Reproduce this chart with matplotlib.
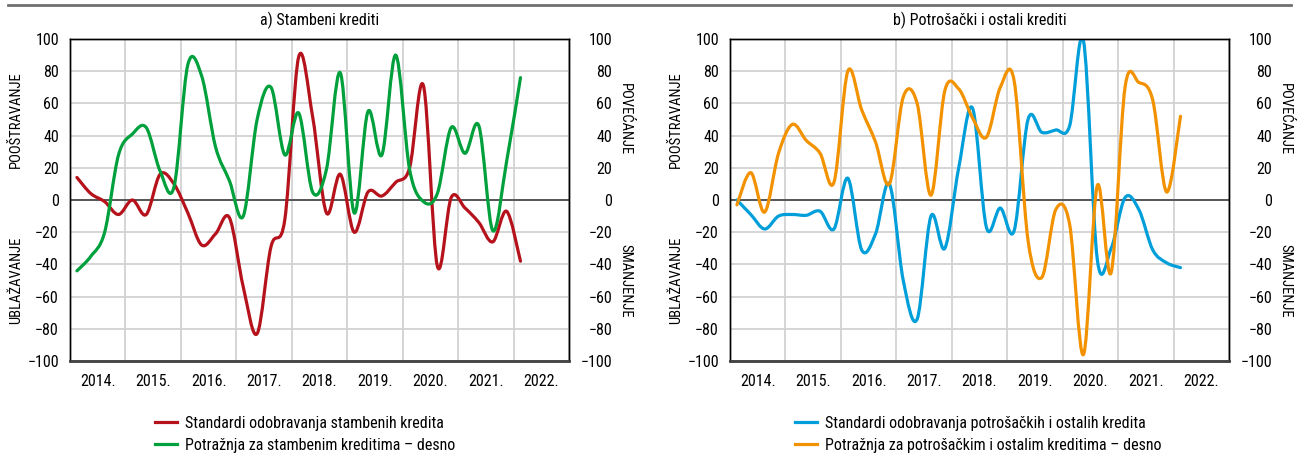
import numpy as np
import pandas as pd
import matplotlib
matplotlib.use("Agg")
import matplotlib.pyplot as plt
from matplotlib.path import Path
from matplotlib.patches import PathPatch
from matplotlib.lines import Line2D
from matplotlib.transforms import blended_transform_factory

plt.rcParams['font.family'] = ['Roboto Condensed', 'DejaVu Sans']

# quarterly survey data, 2014 Q1 - 2022 Q1
quarters = pd.period_range('2014Q1', '2022Q1', freq='Q')

housing_std = [14, 4, -1, -9, 0, -9, 16, 10, -8, -28, -21, -11, -54, -83, -29, -12,
               89, 52, -8, 16, -20, 5, 2.5, 11, 20, 71, -41, 1.5, -5, -14, -26, -7, -38]
housing_dem = [-44, -35, -20, 28, 41, 45, 18, 8, 84, 77, 33, 12, -10, 50, 70, 28,
               54, 5, 19, 79, -8, 55, 28, 90, 19, -1, 4, 45, 29, 46, -19, 24, 76]

cons_std = [0, -9, -18, -10, -9, -9.5, -7, -18, 13.5, -31, -21, 10, -50, -74, -10, -30,
            20, 57, -17, -5, -19, 50, 42, 43.5, 46, 99, -37, -30, 1.5, -6, -31, -39, -42]
cons_dem = [-3, 17, -7.5, 29, 47, 37, 29, 11, 80, 56, 36, 10, 64, 60, 3, 68,
            69, 51, 39, 70, 74, -25, -48, -6, -15, -96, 9, -45, 70, 73, 62, 5, 52]

years = list(range(2014, 2023))
year_labels = [f'{y}.' for y in years]

panels = [
    ("a) Stambeni krediti", housing_std, housing_dem,
     "Standardi odobravanja stambenih kredita",
     "Potražnja za stambenim kreditima – desno",
     "#b5121b", "#00a03c"),
    ("b) Potrošački i ostali krediti", cons_std, cons_dem,
     "Standardi odobravanja potrošačkih i ostalih kredita",
     "Potražnja za potrošačkim i ostalim kreditima – desno",
     "#009fda", "#f39200"),
]


def smooth_path(x, y):
    # excel-like smoothed line: bezier segments through the data points
    pts = np.column_stack([x, y])
    p = np.vstack([pts[0], pts, pts[-1]])
    verts = [pts[0]]
    codes = [Path.MOVETO]
    for i in range(1, len(p) - 2):
        c1 = p[i] + (p[i + 1] - p[i - 1]) / 6
        c2 = p[i + 1] - (p[i + 2] - p[i]) / 6
        verts += [c1, c2, p[i + 1]]
        codes += [Path.CURVE4] * 3
    return Path(verts, codes)


x = quarters.year + (quarters.quarter - 0.5) / 4

fig = plt.figure(figsize=(13.04, 4.54), dpi=100)
fig.add_artist(Line2D([0.006, 0.99], [0.989, 0.989], transform=fig.transFigure,
                      color='#6f6f6f', lw=2))

lefts = [70 / 1304, 730 / 1304]
legend_x = [155 / 1304, 795 / 1304]
fs = 11.5

for k, (title, std, dem, lab1, lab2, c1, c2) in enumerate(panels):
    ax = fig.add_axes([lefts[k], 0.2048, 499 / 1304, 0.7093])
    ax2 = ax.twinx()
    for a in (ax, ax2):
        a.set_xlim(2014, 2023)
        a.set_ylim(-100, 100)
        a.set_yticks(range(-100, 101, 20))
        a.set_yticklabels([str(v).replace('-', '\u2212') for v in range(-100, 101, 20)])
        a.tick_params(axis='y', length=0, labelsize=fs)
    ax.tick_params(axis='y', pad=8)
    ax2.tick_params(axis='y', pad=31)
    for lbl in ax2.get_yticklabels():
        lbl.set_ha('right')

    ax.set_xticks(years + [2023])
    ax.set_xticklabels([])
    ax.set_xticks([y + 0.5 for y in years], minor=True)
    ax.set_xticklabels(year_labels, minor=True, fontsize=fs)
    ax.tick_params(axis='x', which='both', length=0, pad=9)
    ax.grid(True, color='#d2d2d2', lw=1.3)
    ax.set_axisbelow(True)
    ax.axhline(0, color='#333333', lw=1.1, zorder=1)

    for a in (ax, ax2):
        for s in ('top', 'left', 'right'):
            a.spines[s].set_color('black')
            a.spines[s].set_linewidth(1.0)
        a.spines['bottom'].set_color('#444444')
        a.spines['bottom'].set_linewidth(1.8)

    ax.add_patch(PathPatch(smooth_path(x, std), fill=False, edgecolor=c1, lw=2.3,
                           capstyle='round', joinstyle='round', zorder=3))
    ax2.add_patch(PathPatch(smooth_path(x, dem), fill=False, edgecolor=c2, lw=2.3,
                            capstyle='round', joinstyle='round', zorder=3))

    ax.set_title(title, fontsize=fs, pad=10)

    tr = blended_transform_factory(ax.transAxes, ax.transData)
    ax.text(-0.108, 50, 'POOŠTRAVANJE', rotation=90, transform=tr,
            ha='center', va='center', fontsize=10.5)
    ax.text(-0.108, -50, 'UBLAŽAVANJE', rotation=90, transform=tr,
            ha='center', va='center', fontsize=10.5)
    ax.text(1.112, 50, 'POVEĆANJE', rotation=-90, transform=tr,
            ha='center', va='center', fontsize=10.5)
    ax.text(1.112, -50, 'SMANJENJE', rotation=-90, transform=tr,
            ha='center', va='center', fontsize=10.5)

    handles = [Line2D([], [], color=c1, lw=2.3), Line2D([], [], color=c2, lw=2.3)]
    fig.legend(handles, [lab1, lab2], loc='upper left',
               bbox_to_anchor=(legend_x[k], 1 - 416 / 454), frameon=False,
               fontsize=fs, handlelength=1.4, handletextpad=0.45,
               labelspacing=0.42, borderpad=0, borderaxespad=0)

fig.savefig('out.png', dpi=100)
